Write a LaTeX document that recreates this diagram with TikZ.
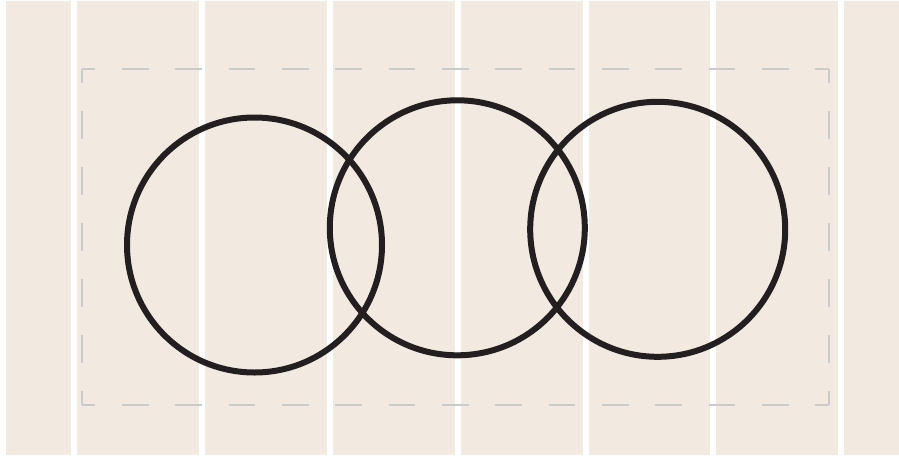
\documentclass[tikz,border=0pt]{standalone}
\definecolor{beige}{HTML}{F2EAE0}
\definecolor{ink}{HTML}{231F20}
\definecolor{dashgray}{HTML}{CBCBCB}
\tikzset{
  strip/.style={fill=beige, draw=none},
  ring/.style={circle, draw=ink, line width=6pt, minimum size=255pt, inner sep=0pt},
  hdash/.style={draw=dashgray, line width=2pt, dash pattern=on 26.67pt off 26.67pt, dash phase=13.33pt},
  vdash/.style={draw=dashgray, line width=2pt, dash pattern=on 28pt off 28pt, dash phase=14pt}
}
\begin{document}
\begin{tikzpicture}[x=1pt,y=-1pt]
\useasboundingbox (0,0) rectangle (899,458);
\fill[white] (0,0) rectangle (899,458);
% vertical strips
\foreach \a/\b in {6/71, 77/199, 205/327, 333/455, 461/583, 589/710, 716/838, 844/899}
  \path[strip] (\a,1) rectangle (\b,455);
% dashed frame
\coordinate (tl) at (82,69);
\coordinate (tr) at (828.7,69);
\coordinate (br) at (828.7,405);
\coordinate (bl) at (82,405);
\draw[hdash] (tl) -- (tr);
\draw[hdash] (bl) -- (br);
\draw[vdash] (tl) -- (bl);
\draw[vdash] (tr) -- (br);
% circles
\node[ring] (c1) at (254.5,245) {};
\node[ring] (c2) at (457.3,227.8) {};
\node[ring] (c3) at (657.7,229.3) {};
\end{tikzpicture}
\end{document}
